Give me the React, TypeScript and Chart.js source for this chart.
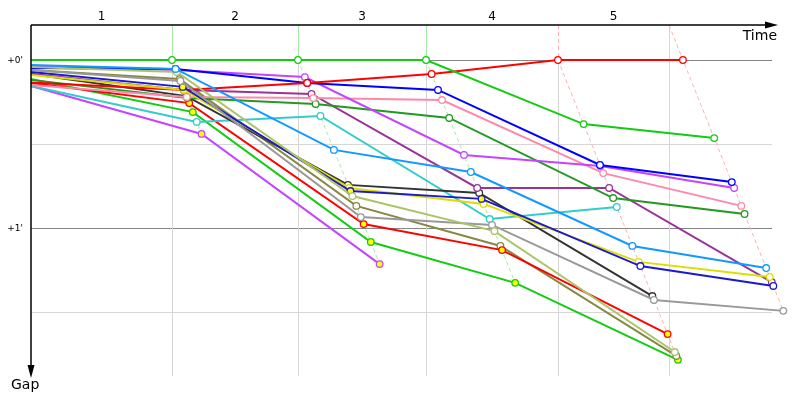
import React, { useEffect, useRef } from 'react';
import { Chart, registerables } from 'chart.js';
Chart.register(...registerables);

// ---- data (seconds) ----
const lapLabels = ['1', '2', '3', '4', '5'];
const leaderTimes = [0, 125.9, 238.4, 352.7, 470.5, 582.1];
const lapGridTimes = [125.9, 238.4, 352.7, 470.5, 569.6];
const gapTicks = [0, 30, 60, 90];
const gapTickLabels = ["+0'", '', "+1'", ''];
const lapLineColors = ['#a6eaa6', '#a6eaa6', '#a6eaa6', '#ffb0b0', '#ffb0b0'];
const lapTopDashed = [false, false, false, true, true];

const gapsRed = [8.0, 10.7, 8.2, 5.0, 0, 0];
const gapsGreen = [0, 0, 0, 0, 22.9, 27.9];
const gapsBlue = [2.9, 3.2, 8.2, 10.7, 37.5, 43.6];
const gapsMagenta = [2.1, 3.6, 6.1, 33.9, 37.9, 45.7];
const gapsPink = [8.9, 13.2, 13.6, 14.3, 40.4, 52.1];
const gapsDarkGreen = [7.1, 13.6, 15.7, 20.7, 49.3, 55.0];
const gapsLightBlue = [1.8, 3.2, 32.1, 40.0, 66.4, 74.3];
const gapsYellow = [5.4, 10.7, 45.7, 51.4, 72.1, 77.5];
const gapsPurple = [5.0, 10.7, 12.1, 45.7, 45.7, 79.3];
const gapsDarkBlue = [4.3, 9.6, 46.8, 49.6, 73.6, 80.7];
const gapsGray = [3.6, 7.5, 56.1, 58.9, 85.7, 89.6];
const gapsBlack = [5.0, 12.9, 44.6, 47.5, 84.3];
const gapsCyan = [9.3, 22.1, 20.0, 56.8, 52.5];
const gapsRed2 = [8.2, 15.4, 58.6, 67.9, 97.9];
const gapsLightOlive = [2.5, 4.3, 48.6, 61.1, 104.3];
const gapsOlive = [3.6, 6.8, 52.1, 66.4, 105.7];
const gapsGreen2 = [6.8, 18.6, 65.0, 79.6, 107.1];
const gapsMagenta2 = [9.3, 26.4, 72.9];

const W = '#ffffff';
const Y = '#ffff00';
const drivers = [
  { gaps: gapsGreen, color: '#11cc11', fill: [W, W, W, W, W, W] },
  { gaps: gapsLightBlue, color: '#1199ff', fill: [W, W, W, W, W, W] },
  { gaps: gapsLightOlive, color: '#aac466', fill: [W, W, W, W, W] },
  { gaps: gapsGray, color: '#999999', fill: [W, W, W, W, W, W] },
  { gaps: gapsDarkBlue, color: '#1a1acc', fill: [W, Y, Y, Y, W, W] },
  { gaps: gapsYellow, color: '#dddd00', fill: [W, Y, W, W, W, W] },
  { gaps: gapsRed, color: '#ff0000', fill: [W, W, W, W, W, W] },
  { gaps: gapsBlue, color: '#0000ff', fill: [W, W, W, W, W, W] },
  { gaps: gapsMagenta, color: '#c444ff', fill: [W, W, W, W, W, W] },
  { gaps: gapsPink, color: '#ff88aa', fill: [W, W, W, W, W, W] },
  { gaps: gapsDarkGreen, color: '#229922', fill: [W, W, W, W, W, W] },
  { gaps: gapsPurple, color: '#993399', fill: [W, W, W, W, W, W] },
  { gaps: gapsBlack, color: '#333333', fill: [W, W, W, W, W] },
  { gaps: gapsCyan, color: '#33cccc', fill: [W, W, W, W, W] },
  { gaps: gapsRed2, color: '#ff0000', fill: [Y, Y, Y, Y, Y] },
  { gaps: gapsOlive, color: '#888844', fill: [W, W, W, W, W] },
  { gaps: gapsGreen2, color: '#11cc11', fill: [Y, Y, Y, Y, Y] },
  { gaps: gapsMagenta2, color: '#c444ff', fill: [Y, Y, Y] },
];

const FONT = "'DejaVu Sans', Verdana, sans-serif";

const decor = {
  id: 'decor',
  beforeDatasetsDraw(chart: any) {
    const { ctx, chartArea, scales } = chart;
    const xs = scales.x, ys = scales.y;
    const top = chartArea.top, bottom = chartArea.bottom, left = chartArea.left;
    const gridRight = 772;
    ctx.save();
    ctx.lineWidth = 1;
    gapTicks.forEach((g, i) => {
      const py = Math.round(ys.getPixelForValue(g)) + 0.5;
      ctx.strokeStyle = gapTickLabels[i] ? '#858585' : '#d6d6d6';
      ctx.beginPath();
      ctx.moveTo(left, py);
      ctx.lineTo(gridRight, py);
      ctx.stroke();
    });
    const y0 = ys.getPixelForValue(0);
    lapGridTimes.forEach((t, i) => {
      const px = Math.round(xs.getPixelForValue(t)) + 0.5;
      const onLeader = Math.abs(t - leaderTimes[i + 1]) < 0.5;
      ctx.strokeStyle = '#d6d6d6';
      ctx.setLineDash([]);
      ctx.beginPath();
      ctx.moveTo(px, onLeader ? y0 : top);
      ctx.lineTo(px, bottom);
      ctx.stroke();
    });
    for (let k = 1; k <= 5; k++) {
      const gs = drivers.map((d) => d.gaps[k]).filter((v) => v !== undefined);
      const maxGap = Math.max(...gs);
      const T = leaderTimes[k];
      const gridT = lapGridTimes[k - 1];
      const onLeader = Math.abs(gridT - T) < 0.5;
      ctx.strokeStyle = lapLineColors[k - 1];
      ctx.lineWidth = 1;
      if (onLeader) {
        const px = Math.round(xs.getPixelForValue(T)) + 0.5;
        ctx.setLineDash(lapTopDashed[k - 1] ? [4, 3] : []);
        ctx.beginPath();
        ctx.moveTo(px, top);
        ctx.lineTo(px, y0);
        ctx.stroke();
        ctx.setLineDash([4, 3]);
        ctx.beginPath();
        ctx.moveTo(xs.getPixelForValue(T), y0);
        ctx.lineTo(xs.getPixelForValue(T + maxGap), ys.getPixelForValue(maxGap));
        ctx.stroke();
      } else {
        const gTop = ys.getValueForPixel(top);
        ctx.setLineDash([4, 3]);
        ctx.beginPath();
        ctx.moveTo(xs.getPixelForValue(T + gTop), top);
        ctx.lineTo(xs.getPixelForValue(T + maxGap), ys.getPixelForValue(maxGap));
        ctx.stroke();
      }
    }
    ctx.restore();
  },
  afterDraw(chart: any) {
    const { ctx, chartArea, scales } = chart;
    const xs = scales.x, ys = scales.y;
    const top = chartArea.top, left = chartArea.left, bottom = chartArea.bottom;
    ctx.save();
    ctx.setLineDash([]);
    ctx.strokeStyle = '#000';
    ctx.fillStyle = '#000';
    ctx.lineWidth = 1.5;
    // x axis
    ctx.beginPath();
    ctx.moveTo(left, top);
    ctx.lineTo(768, top);
    ctx.stroke();
    ctx.beginPath();
    ctx.moveTo(778, top);
    ctx.lineTo(765, top - 3.5);
    ctx.lineTo(765, top + 3.5);
    ctx.closePath();
    ctx.fill();
    // y axis
    ctx.beginPath();
    ctx.moveTo(left, top);
    ctx.lineTo(left, bottom - 8);
    ctx.stroke();
    ctx.beginPath();
    ctx.moveTo(left, bottom + 2);
    ctx.lineTo(left - 3.5, bottom - 11);
    ctx.lineTo(left + 3.5, bottom - 11);
    ctx.closePath();
    ctx.fill();
    // lap labels
    ctx.font = `12px ${FONT}`;
    ctx.textAlign = 'center';
    ctx.textBaseline = 'middle';
    const bounds = [0, ...lapGridTimes];
    lapLabels.forEach((lab, i) => {
      const a = xs.getPixelForValue(bounds[i]);
      const b = xs.getPixelForValue(bounds[i + 1]);
      ctx.fillText(lab, (a + b) / 2, 17);
    });
    // gap labels
    ctx.font = `9px ${FONT}`;
    ctx.textAlign = 'right';
    gapTicks.forEach((g, i) => {
      if (gapTickLabels[i]) ctx.fillText(gapTickLabels[i], 23, ys.getPixelForValue(g) + 0.5);
    });
    ctx.font = `14px ${FONT}`;
    ctx.textBaseline = 'alphabetic';
    ctx.textAlign = 'right';
    ctx.fillText('Time', 777, 40);
    ctx.textAlign = 'left';
    ctx.fillText('Gap', 11, 389);
    ctx.restore();
  },
};

export default function App() {
  const ref = useRef<HTMLCanvasElement>(null);
  useEffect(() => {
    if (!ref.current) return;
    const datasets = drivers.map((d) => ({
      data: d.gaps.map((g, lap) => ({ x: lap === 0 ? 0 : leaderTimes[lap] + g, y: g })),
      borderColor: d.color,
      backgroundColor: d.color,
      pointBorderColor: d.color,
      pointBackgroundColor: d.fill,
      pointRadius: d.gaps.map((_, lap) => (lap === 0 ? 0 : 3.3)),
      pointBorderWidth: 1.3,
      borderWidth: 2,
      tension: 0,
      clip: false as any,
    }));
    const chart = new Chart(ref.current, {
      type: 'line',
      data: { datasets },
      options: {
        animation: false,
        responsive: false,
        events: [],
        layout: { padding: { left: 31, top: 25, right: 10, bottom: 24 } },
        plugins: { legend: { display: false }, tooltip: { enabled: false } },
        scales: {
          x: { type: 'linear', display: false, min: 0, max: (790 - 31) / 1.12 },
          y: { type: 'linear', display: false, reverse: true, min: -12.5, max: 112.86 },
        },
      },
      plugins: [decor],
    });
    return () => chart.destroy();
  }, []);
  return (
    <div style={{ position: 'absolute', left: 0, top: 0, width: 800, height: 400 }}>
      <canvas ref={ref} width={800} height={400} style={{ display: 'block' }} />
    </div>
  );
}
